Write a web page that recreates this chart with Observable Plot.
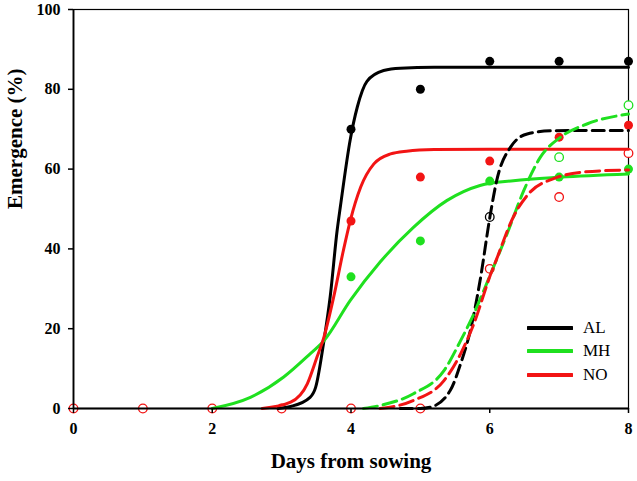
<!DOCTYPE html>
<html>
<head>
<meta charset="utf-8">
<script src="https://cdn.jsdelivr.net/npm/d3@7"></script>
<script src="https://cdn.jsdelivr.net/npm/@observablehq/plot@0.6"></script>
<style>
  body { margin: 0; background: #fff; }
  #wrap { position: relative; width: 637px; height: 481px; }
  #legend { position: absolute; left: 527px; top: 316px; font-family: "Liberation Serif", serif; font-size: 17px; }
  #legend div { display: flex; align-items: center; height: 23.5px; }
  #legend svg { margin-right: 10px; }
</style>
</head>
<body>
<div id="wrap"><div id="legend"></div></div>
<script>
// ---- data ----
const seriesNames = ["AL", "MH", "NO"];
const seriesColors = ["#000000", "#1fe01f", "#f21414"];

// observed points, filled symbols (solid-line treatment)
const filledX = [4, 5, 6, 7, 8];
const alFilledY = [70, 80, 87, 87, 87];
const mhFilledY = [33, 42, 57, 58, 60];
const noFilledY = [47, 58, 62, 68, 71];

// observed points, open symbols (dashed-line treatment)
const alOpenX = [6];
const alOpenY = [48];
const mhOpenX = [7, 8];
const mhOpenY = [63, 76];
const noOpenX = [0, 1, 2, 3, 4, 5, 6, 7, 8];
const noOpenY = [0, 0, 0, 0, 0, 0, 35, 53, 64];

// fitted curves
const alSolidX = [2.95, 3.13, 3.41, 3.49, 3.61, 3.70, 3.80, 3.85, 3.99, 4.09, 4.23, 4.47, 4.71, 5.2, 6, 7, 8];
const alSolidY = [0, 0.5, 2.8, 5.3, 17, 28, 44.6, 51, 67.5, 75.5, 82, 84.7, 85.3, 85.5, 85.5, 85.5, 85.5];
const mhSolidX = [2.0, 2.55, 3.03, 3.41, 3.61, 3.99, 4.42, 4.90, 5.38, 5.86, 6.34, 7.02, 8];
const mhSolidY = [0, 2.8, 7.9, 13.7, 17, 27.1, 36.7, 45.4, 52.1, 55.9, 57.1, 58, 58.8];
const noSolidX = [2.72, 3.13, 3.37, 3.51, 3.61, 3.75, 3.89, 3.99, 4.14, 4.33, 4.57, 4.8, 5.2, 6, 7, 8];
const noSolidY = [0, 1.6, 6.2, 12.9, 17.9, 27.9, 39.6, 47.1, 55.5, 61.3, 63.8, 64.5, 64.9, 65, 65, 65];

const alDashX = [4.71, 5.0, 5.14, 5.43, 5.58, 5.72, 5.86, 6.01, 6.10, 6.30, 6.54, 6.9, 7.5, 8];
const alDashY = [0, 0, 0.3, 4.5, 11.2, 19.5, 32, 48.8, 57.1, 65.5, 68.8, 69.6, 69.7, 69.7];
const mhDashX = [4.18, 4.42, 4.90, 5.34, 5.58, 5.77, 5.96, 6.25, 6.49, 6.73, 7.02, 7.40, 8.0];
const mhDashY = [0, 0.75, 3.7, 9.5, 17, 23.7, 31.5, 43.8, 54.6, 63, 68, 71.3, 73.8];
const noDashX = [4.42, 4.90, 5.34, 5.58, 5.77, 6.01, 6.10, 6.34, 6.58, 6.92, 7.31, 8.0];
const noDashY = [0, 2, 7, 13.7, 21.2, 33.5, 37.5, 48, 54.2, 57.6, 59.2, 59.8];

const xTicks = [0, 2, 4, 6, 8];
const yTicks = [0, 20, 40, 60, 80, 100];
const xTitle = "Days from sowing";
const yTitle = "Emergence (%)";

// ---- build ----
const pts = (xs, ys) => xs.map((x, i) => ({x, y: ys[i]}));
const curves = [
  {d: pts(alSolidX, alSolidY), c: 0, dash: null},
  {d: pts(mhSolidX, mhSolidY), c: 1, dash: null},
  {d: pts(noSolidX, noSolidY), c: 2, dash: null},
  {d: pts(alDashX, alDashY), c: 0, dash: "12,6"},
  {d: pts(mhDashX, mhDashY), c: 1, dash: "14,6"},
  {d: pts(noDashX, noDashY), c: 2, dash: "14,6"}
];
const filled = [
  {d: pts(filledX, alFilledY), c: 0},
  {d: pts(filledX, mhFilledY), c: 1},
  {d: pts(filledX, noFilledY), c: 2}
];
const open = [
  {d: pts(alOpenX, alOpenY), c: 0},
  {d: pts(mhOpenX, mhOpenY), c: 1},
  {d: pts(noOpenX, noOpenY), c: 2}
];

const marks = [];
for (const s of filled) marks.push(Plot.dot(s.d, {x: "x", y: "y", r: 4.5, fill: seriesColors[s.c], stroke: "none"}));
for (const s of open) marks.push(Plot.dot(s.d, {x: "x", y: "y", r: 4.3, fill: "white", stroke: seriesColors[s.c], strokeWidth: 1.3}));
for (const s of curves) marks.push(Plot.line(s.d, {x: "x", y: "y", curve: "monotone-x", stroke: seriesColors[s.c], strokeWidth: 3, strokeDasharray: s.dash ?? undefined}));

const chart = Plot.plot({
  width: 637, height: 481,
  marginLeft: 73, marginRight: 9, marginTop: 9, marginBottom: 73,
  style: {fontFamily: "Liberation Serif, serif", fontSize: "16px", fontWeight: "bold", color: "#000", background: "#fff"},
  x: {domain: [0, 8]},
  y: {domain: [0, 100]},
  marks: [
    Plot.frame({stroke: "#000", strokeWidth: 1.2}),
    ...marks,
    Plot.axisX({ticks: xTicks, tickFormat: d => String(d), tickSize: 5, tickPadding: 9, strokeWidth: 1.5, label: null, fontSize: 16, fontWeight: "bold"}),
    Plot.axisY({ticks: yTicks, tickFormat: d => String(d), tickSize: 5, tickPadding: 8, strokeWidth: 1.5, label: null, fontSize: 16, fontWeight: "bold"}),
    Plot.text([xTitle], {text: d => d, frameAnchor: "bottom", dy: 59, fontSize: 21, fontWeight: "bold", fill: "#000"}),
    Plot.text([yTitle], {text: d => d, frameAnchor: "left", dx: -58, rotate: -90, fontSize: 21, fontWeight: "bold", fill: "#000"}),
    Plot.ruleX([0], {stroke: "#000", strokeWidth: 1.8}),
    Plot.ruleY([0], {stroke: "#000", strokeWidth: 1.8})
  ]
});
document.getElementById("wrap").prepend(chart);

// legend
const legend = document.getElementById("legend");
seriesNames.forEach((n, i) => {
  const row = document.createElement("div");
  row.innerHTML = `<svg width="46" height="8"><line x1="1" y1="4" x2="45" y2="4" stroke="${seriesColors[i]}" stroke-width="4" stroke-linecap="round"/></svg><span>${n}</span>`;
  legend.appendChild(row);
});
</script>
</body>
</html>
